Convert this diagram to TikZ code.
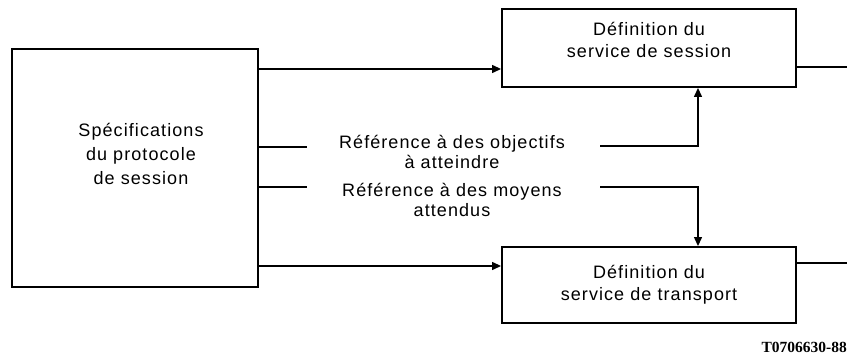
\documentclass[tikz,border=0pt]{standalone}
\usepackage{fontspec}
\setmainfont{Liberation Sans}[LetterSpace=6]
\newfontfamily\codefont{Liberation Serif}
\usetikzlibrary{arrows.meta,calc}
\begin{document}
\begin{tikzpicture}[x=1pt,y=-1pt,
  box/.style={draw,line width=1.9pt,inner sep=0pt,align=center,font=\fontsize{18}{22}\selectfont},
  conn/.style={line width=1.3pt},
  arr/.style={conn,-{Triangle[length=9pt,width=8pt]}},
  lbl/.style={align=center,inner sep=0pt,font=\fontsize{18}{20}\selectfont}]
\useasboundingbox (0,0) rectangle (847,355);
\node[box,minimum width=246pt,minimum height=238pt,font=\fontsize{18}{24}\selectfont] (spec) at (135,168)
  {\hspace*{12pt}\raisebox{8pt}[0pt][0pt]{\begin{tabular}{@{}c@{}}Spécifications\\du protocole\\de session\end{tabular}}};
\node[box,minimum width=294pt,minimum height=78pt] (sess) at (649,48)
  {\raisebox{2pt}[0pt][0pt]{\begin{tabular}{@{}c@{}}Définition du\\service de session\end{tabular}}};
\node[box,minimum width=294pt,minimum height=76pt] (trans) at (649,285) {Définition du\\service de transport};
\node[lbl] (obj) at (452,152) {Référence à des objectifs\\à atteindre};
\node[lbl] (moy) at (452,200) {Référence à des moyens\\attendus};
\node[anchor=east,inner sep=0pt,font=\codefont\bfseries\fontsize{15.5}{17}\selectfont] (code) at (847,347) {T0706630-88};
\coordinate (y1) at (0,69);
\coordinate (y2) at (0,266);
\coordinate (outA) at (847,67);
\coordinate (outB) at (847,263);
\coordinate (s1) at (307,147);
\coordinate (s2) at (307,187);
\coordinate (r1) at (600,146);
\coordinate (r2) at (600,187);
\coordinate (k1) at (698,146);
\coordinate (k2) at (698,187);
\draw[arr] (spec.east |- y1) -- (sess.west |- y1);
\draw[arr] (spec.east |- y2) -- (trans.west |- y2);
\draw[conn] (sess.east |- outA) -- (outA);
\draw[conn] (trans.east |- outB) -- (outB);
\draw[conn] (spec.east |- s1) -- (s1);
\draw[conn] (spec.east |- s2) -- (s2);
\draw[arr] (r1) -- (k1) -- (sess.south -| k1);
\draw[arr] (r2) -- (k2) -- (trans.north -| k2);
\end{tikzpicture}
\end{document}
